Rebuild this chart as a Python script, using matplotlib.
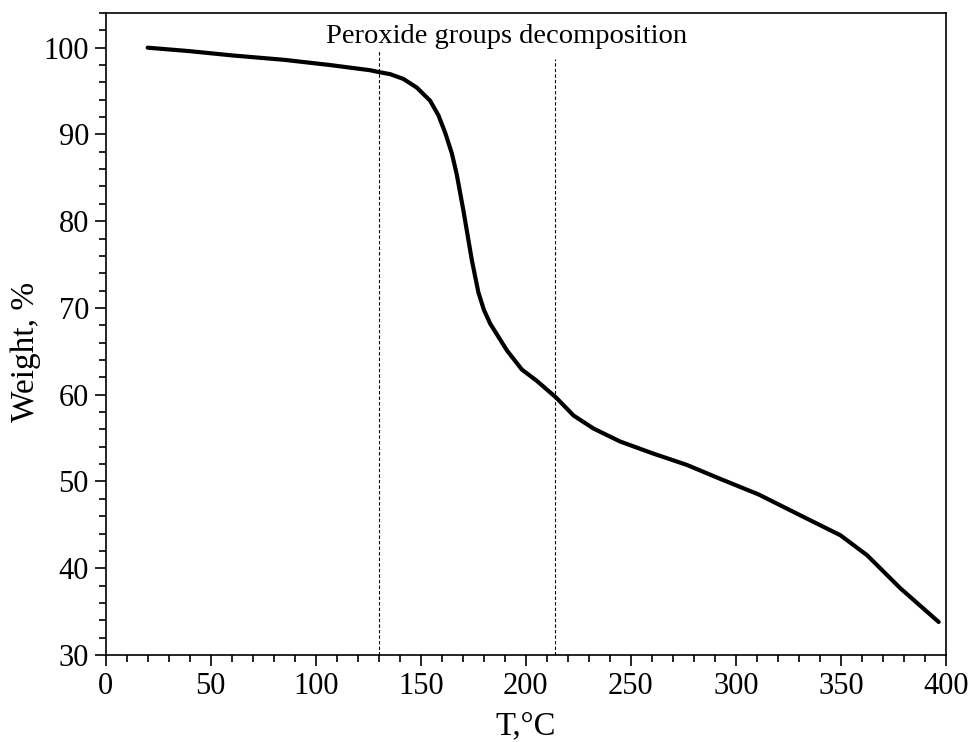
import numpy as np
import matplotlib
matplotlib.use('Agg')
import matplotlib.pyplot as plt
from matplotlib.ticker import MultipleLocator

plt.rcParams.update({
    'font.family': 'serif',
    'font.serif': ['Liberation Serif', 'DejaVu Serif'],
    'mathtext.fontset': 'stix',
})

# TGA curve
temp = [20, 40, 60.6, 85, 106.8, 125.9, 129.8, 135.4, 141.7, 148.1, 154.4, 158.4, 161.6,
        164.8, 167.1, 170.3, 174.3, 177.4, 180, 183, 191, 198.1, 205.2, 214.5, 222.7, 232.2,
        244.9, 260.8, 276.7, 292.5, 310.8, 330.6, 349.7, 362.4, 378.2, 396.5]
weight = [100.0, 99.6, 99.1, 98.6, 98.0, 97.4, 97.2, 96.95, 96.4, 95.4, 93.9, 92.2, 90.2,
          87.8, 85.4, 81.2, 75.5, 71.8, 69.8, 68.2, 65.1, 62.9, 61.6, 59.65, 57.6, 56.1,
          54.6, 53.2, 51.9, 50.3, 48.5, 46.1, 43.8, 41.5, 37.7, 33.8]
marks = [130, 214]
mark_tops = [99.6, 98.7]
label = 'Peroxide groups decomposition'

fig = plt.figure(figsize=(9.72, 7.42), dpi=100)
ax = fig.add_axes([0.1087, 0.1173, 0.8646, 0.8652])

ax.plot(temp, weight, color='black', linewidth=3.0, solid_capstyle='round',
        solid_joinstyle='round')
for m, top in zip(marks, mark_tops):
    ax.plot([m, m], [30, top], color='black', linestyle=(0, (3, 2)), linewidth=0.8)
ax.text(190.6, 101.3, label, ha='center', va='center', fontsize=20.5)

ax.set_xlim(0, 400)
ax.set_ylim(30, 104)
ax.xaxis.set_major_locator(MultipleLocator(50))
ax.xaxis.set_minor_locator(MultipleLocator(10))
ax.yaxis.set_major_locator(MultipleLocator(10))
ax.yaxis.set_minor_locator(MultipleLocator(2))
ax.tick_params(which='both', direction='out', top=False, right=False,
               labelsize=22, width=1.2)
ax.tick_params(which='major', length=8, pad=4)
ax.tick_params(which='minor', length=5)
for s in ax.spines.values():
    s.set_linewidth(1.2)

ax.set_xlabel('T,°C', fontsize=23.5, labelpad=7)
ax.set_ylabel('Weight, %', fontsize=24, va='center')
ax.yaxis.set_label_coords(-0.095, 0.472)

fig.savefig('out.png', dpi=100)
